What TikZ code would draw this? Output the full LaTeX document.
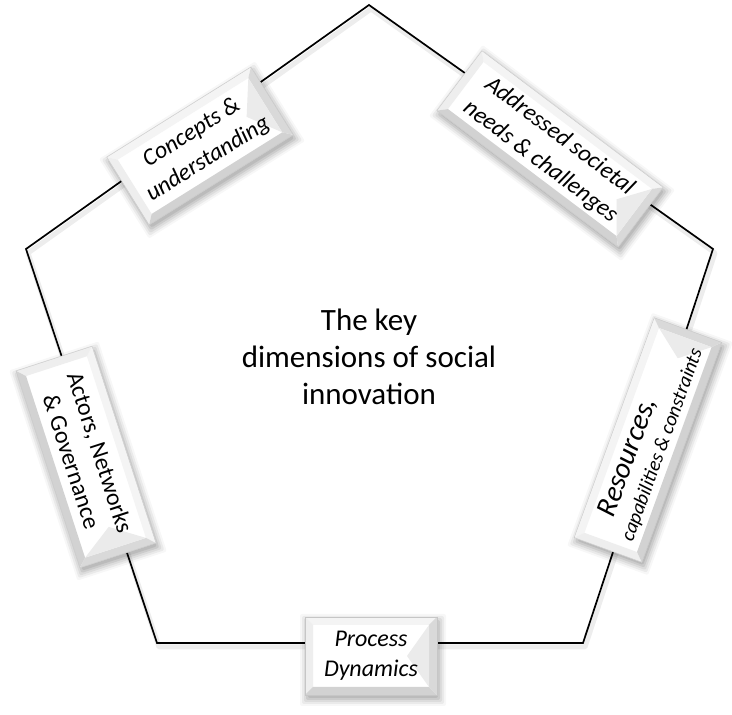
\documentclass[tikz,border=0pt]{standalone}
\usepackage{fontspec}
\setmainfont{Carlito}
\tikzset{
  edge line/.style={black, line width=1.7pt, line join=miter},
  edge shadow/.style={black, opacity=0.07, line width=5pt, line join=round},
  labeltext/.style={transform shape, align=center, inner sep=0pt, text=black},
  titletext/.style={align=center, font=\fontsize{31}{37}\selectfont, text=black},
}
\newcommand{\bevelbox}[8]{%
  \begin{scope}[shift={(#2,#3)}, shift={(2,-4)}, rotate=#4]
    \foreach \s/\o in {7/0.03,5/0.05,3/0.06,1/0.08,-1/0.08}
      \fill[black, opacity=\o, rounded corners=2] (-#5-\s,-#6-\s) rectangle (#5+\s,#6+\s);
  \end{scope}
  \begin{scope}[shift={(#2,#3)}, rotate=#4]
    \fill[white] (-#5,-#6) rectangle (#5,#6);
    \fill[gray!9] (-#5,#6) -- (#5,#6) -- (#5-8,#6-8) -- (-#5+8,#6-8) -- cycle;
    \fill[gray!13] (-#5,#6) -- (-#5+8,#6-8) -- (-#5+8,-#6+8) -- (-#5,-#6) -- cycle;
    \fill[gray!35] (-#5,-#6) -- (#5,-#6) -- (#5-8,-#6+8) -- (-#5+8,-#6+8) -- cycle;
    \fill[gray!30] (#5,#6) -- (#5,-#6) -- (#5-8,-#6+8) -- (#5-8,#6-8) -- cycle;
    \fill[gray!16] (#5-8,#6-8) -- (#5-8,-#6+8) -- (#5-30,0) -- cycle;
    \draw[gray!45, line width=0.4pt] (-#5,-#6) rectangle (#5,#6);
    \node[labeltext, #7] (#1) at (0,0) {#8};
  \end{scope}}
\begin{document}
\begin{tikzpicture}[x=1pt, y=1pt]
\useasboundingbox (0,0) rectangle (732,715);
% pentagon vertices
\coordinate (T)  at (369,710);
\coordinate (R)  at (713,466);
\coordinate (BR) at (583,72);
\coordinate (BL) at (157,72);
\coordinate (L)  at (26,466);
% soft shadow of the pentagon
\draw[edge shadow] ([xshift=2pt,yshift=-4pt]T) -- ([xshift=2pt,yshift=-4pt]R) -- ([xshift=2pt,yshift=-4pt]BR) -- ([xshift=2pt,yshift=-4pt]BL) -- ([xshift=2pt,yshift=-4pt]L) -- cycle;
\draw[edge line] (T) -- (R) -- (BR) -- (BL) -- (L) -- cycle;
% title
\node[titletext] (title) at (369,358) {The key\\dimensions of social\\innovation};
% labels
\bevelbox{concepts}{200}{569}{32}{85}{40}{font=\fontsize{24}{31}\selectfont\itshape}{Concepts \&\\understanding}
\bevelbox{needs}{550}{566}{-37}{113.5}{37.5}{font=\fontsize{24}{32}\selectfont\itshape}{Addressed societal\\needs \& challenges}
\bevelbox{resources}{648}{275}{70}{117}{36}{font=\fontsize{29}{26}\selectfont\itshape}{Resources,\hspace*{46pt}\\{\fontsize{20}{22}\selectfont capabilities \& constraints}}
\bevelbox{actors}{86}{258}{-72}{103.5}{40}{font=\fontsize{24}{30}\selectfont}{Actors, Networks\\\& Governance}
\bevelbox{process}{371}{59}{0}{66}{39}{font=\fontsize{24}{30}\selectfont\itshape}{Process\\Dynamics}
\end{tikzpicture}
\end{document}
